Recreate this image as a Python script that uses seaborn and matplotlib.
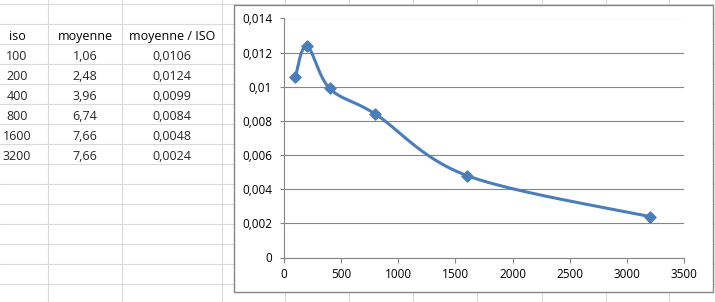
import numpy as np
import pandas as pd
import matplotlib
matplotlib.use("Agg")
import matplotlib.pyplot as plt
from matplotlib.lines import Line2D
from matplotlib.patches import Rectangle
from matplotlib.ticker import FuncFormatter, MultipleLocator
import seaborn as sns

# ---- data ----
iso = [100, 200, 400, 800, 1600, 3200]
moyenne = [1.06, 2.48, 3.96, 6.74, 7.66, 7.66]
ratio = [0.0106, 0.0124, 0.0099, 0.0084, 0.0048, 0.0024]
headers = ["iso", "moyenne", "moyenne / ISO"]
x_ticks = [0, 500, 1000, 1500, 2000, 2500, 3000, 3500]
y_ticks = [0, 0.002, 0.004, 0.006, 0.008, 0.01, 0.012, 0.014]

sns.set_style("white")
plt.rcParams["font.family"] = ["Open Sans", "DejaVu Sans"]

W, H = 715, 302
fig = plt.figure(figsize=(W / 100, H / 100), dpi=100)
fig.patch.set_facecolor("white")

def fx(px):
    return px / W

def fy(py):
    return 1 - py / H

GRID = "#D9D9D9"
# spreadsheet grid
for k in range(16):
    y = 4 + 20 * k
    fig.add_artist(Line2D([0, 1], [fy(y), fy(y)], transform=fig.transFigure,
                          color=GRID, lw=0.8, zorder=0))
for x in [48, 122, 222, 285, 349, 413, 477, 542, 606, 669]:
    fig.add_artist(Line2D([fx(x), fx(x)], [0, 1], transform=fig.transFigure,
                          color=GRID, lw=0.8, zorder=0))

# table text
col_centers = [17, 85, 172]
for c, h in zip(col_centers, headers):
    fig.text(fx(c), fy(40), h, ha="center", va="baseline", fontsize=9, color="black")

def comma(v, fmt):
    return (fmt % v).replace(".", ",")

for i in range(len(iso)):
    base = 60 + 20 * i
    fig.text(fx(col_centers[0]), fy(base), str(iso[i]), ha="center", va="baseline", fontsize=9)
    fig.text(fx(col_centers[1]), fy(base), comma(moyenne[i], "%.2f"), ha="center", va="baseline", fontsize=9)
    fig.text(fx(col_centers[2]), fy(base), comma(ratio[i], "%.4f"), ha="center", va="baseline", fontsize=9)

# chart box
fig.add_artist(Rectangle((fx(233.5), fy(291.5)), (713 - 233.5) / W, (291.5 - 4.5) / H,
                         transform=fig.transFigure, facecolor="white",
                         edgecolor="#868686", lw=1.0, zorder=1))

# plot axes
left, right, top, bottom = 284, 684, 18.5, 257.5
ax = fig.add_axes([fx(left), fy(bottom), (right - left) / W, (bottom - top) / H], zorder=2)
ax.set_facecolor("none")
ax.set_xlim(0, 3500)
ax.set_ylim(0, 0.014)

# smoothed line (Excel-like Catmull-Rom in screen space)
sx = (right - left) / 3500.0
sy = (bottom - top) / 0.014
P = np.column_stack([np.array(iso) * sx, np.array(ratio) * sy])
Pe = np.vstack([P[0], P, P[-1]])
t = np.linspace(0, 1, 60)
xs, ys = [], []
for i in range(len(P) - 1):
    p0, p3 = Pe[i + 1], Pe[i + 2]
    c1 = p0 + (Pe[i + 2] - Pe[i]) / 6.0
    c2 = p3 - (Pe[i + 3] - Pe[i + 1]) / 6.0
    b = ((1 - t) ** 3)[:, None] * p0 + (3 * (1 - t) ** 2 * t)[:, None] * c1 \
        + (3 * (1 - t) * t ** 2)[:, None] * c2 + (t ** 3)[:, None] * p3
    xs.extend(b[:, 0] / sx)
    ys.extend(b[:, 1] / sy)
curve = pd.DataFrame({"x": xs, "y": ys})
BLUE = "#4A7EBB"
sns.lineplot(data=curve, x="x", y="y", sort=False, estimator=None, ax=ax,
             color=BLUE, lw=2.2, zorder=3)
sns.scatterplot(x=iso, y=ratio, marker="D", s=32, color=BLUE, edgecolor=BLUE,
                linewidth=1.0, ax=ax, zorder=4)

ax.set_xlabel("")
ax.set_ylabel("")
ax.xaxis.set_major_locator(MultipleLocator(500))
ax.yaxis.set_major_locator(MultipleLocator(0.002))
ax.set_xticks(x_ticks)
ax.set_yticks(y_ticks)
ax.yaxis.set_major_formatter(FuncFormatter(lambda v, p: ("%g" % round(v, 4)).replace(".", ",")))
ax.xaxis.set_major_formatter(FuncFormatter(lambda v, p: "%d" % v))
ax.set_xlim(0, 3500)
ax.set_ylim(0, 0.014)
ax.grid(axis="y", color="#868686", lw=0.8)
ax.grid(axis="x", visible=False)
ax.set_axisbelow(True)
for s in ["top", "right"]:
    ax.spines[s].set_visible(False)
for s in ["left", "bottom"]:
    ax.spines[s].set_visible(True)
    ax.spines[s].set_color("#868686")
    ax.spines[s].set_linewidth(0.8)
ax.tick_params(axis="y", direction="out", length=3, width=0.8, color="#868686",
               pad=5.5, labelsize=8.5, labelcolor="black", left=True)
ax.tick_params(axis="x", direction="out", length=3.6, width=0.8, color="#868686",
               pad=4, labelsize=8.5, labelcolor="black", bottom=True)

fig.savefig("out.png", dpi=100)
